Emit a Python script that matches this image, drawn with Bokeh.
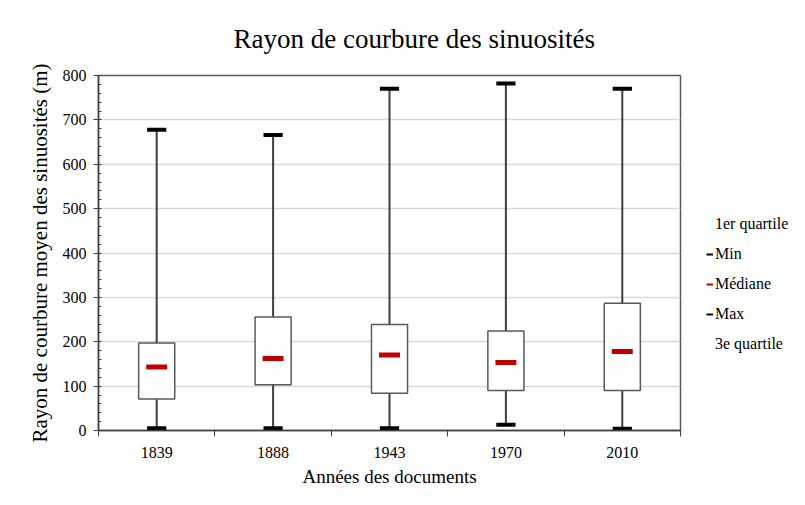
import numpy as np
from bokeh.plotting import figure
from bokeh.layouts import row
from bokeh.models import Range1d, FixedTicker, SingleIntervalTicker, Legend, LegendItem
from bokeh.embed import file_html
from bokeh.resources import INLINE

years = ["1839", "1888", "1943", "1970", "2010"]
v_min = [5, 5, 5, 13, 4]
q1 = [71, 103, 84, 90, 90]
median = [143, 162, 170, 153, 178]
q3 = [197, 256, 239, 224, 287]
v_max = [678, 666, 770, 782, 770]
legend_labels = ["1er quartile", "Min", "Médiane", "Max", "3e quartile"]

x = list(range(1, len(years) + 1))
FONT = "Liberation Serif"

p = figure(width=690, height=497, output_backend="svg", toolbar_location=None,
           x_range=Range1d(0.5, len(years) + 0.5), y_range=Range1d(0, 800),
           min_border_left=98, min_border_right=10, min_border_top=75, min_border_bottom=67)

p.title.text = "Rayon de courbure des sinuosités"
p.title.text_font = FONT
p.title.text_font_size = "27px"
p.title.text_font_style = "normal"
p.title.align = "left"
p.title.offset = 135
p.title.standoff = 43
p.title.text_color = "black"

p.outline_line_color = "#595959"
p.outline_line_width = 1.5
p.xgrid.grid_line_color = None
p.ygrid.grid_line_color = "#d9d9d9"
p.ygrid.grid_line_width = 1.5

# y axis
p.yaxis.ticker = SingleIntervalTicker(interval=100, num_minor_ticks=5)
p.yaxis.axis_label = "Rayon de courbure moyen des sinuosités (m)"
p.yaxis.major_tick_in = 2
p.yaxis.major_tick_out = 5
p.yaxis.minor_tick_in = 3
p.yaxis.minor_tick_out = 0
p.yaxis.major_label_standoff = 7
p.yaxis.axis_label_standoff = 8

# x axis
p.xaxis.ticker = FixedTicker(ticks=x, minor_ticks=[i + 0.5 for i in range(len(years) + 1)])
p.xaxis.major_label_overrides = {xi: yr for xi, yr in zip(x, years)}
p.xaxis.major_tick_in = 0
p.xaxis.major_tick_out = 0
p.xaxis.minor_tick_in = 0
p.xaxis.minor_tick_out = 6
p.xaxis.major_label_standoff = 10
p.xaxis.axis_label = "Années des documents"
p.xaxis.axis_label_standoff = 5

for ax in (p.xaxis, p.yaxis):
    ax.axis_line_color = "#404040"
    ax.axis_line_width = 1.5
    ax.major_tick_line_color = "#404040"
    ax.minor_tick_line_color = "#404040"
    ax.major_label_text_font = FONT
    ax.major_label_text_font_size = "16px"
    ax.major_label_text_color = "black"
    ax.axis_label_text_font = FONT
    ax.axis_label_text_font_style = "normal"
    ax.axis_label_text_color = "black"
p.xaxis.axis_label_text_font_size = "19px"
p.yaxis.axis_label_text_font_size = "21px"

# whiskers
p.segment(x0=x, y0=v_min, x1=x, y1=v_max, line_color="#404040", line_width=2)
# boxes
p.vbar(x=x, width=0.31, bottom=q1, top=q3, fill_color="white",
       line_color="#595959", line_width=1.5)
# caps
p.rect(x=x, y=v_min, width=0.165, height=4, height_units="screen",
       fill_color="black", line_color=None)
p.rect(x=x, y=v_max, width=0.165, height=4, height_units="screen",
       fill_color="black", line_color=None)
# medians
p.rect(x=x, y=median, width=0.18, height=5, height_units="screen",
       fill_color="#C00000", line_color=None)

# legend in a narrow companion figure (proxy renderers hidden, legend only)
lp = figure(width=107, height=497, output_backend="svg", toolbar_location=None,
            x_range=Range1d(0, 1), y_range=Range1d(0, 1),
            x_axis_location=None, y_axis_location=None, min_border=0)
lp.grid.visible = False
lp.outline_line_color = None

r_q1 = lp.line(x=x, y=q1, line_alpha=0, visible=False)
r_min = lp.line(x=x, y=v_min, line_color="black", line_width=2, visible=False)
r_med = lp.line(x=x, y=median, line_color="#C00000", line_width=2, visible=False)
r_max = lp.line(x=x, y=v_max, line_color="black", line_width=2, visible=False)
r_q3 = lp.line(x=x, y=q3, line_alpha=0, visible=False)
rends = [r_q1, r_min, r_med, r_max, r_q3]

legend = Legend(items=[LegendItem(label=lab, renderers=[r]) for lab, r in zip(legend_labels, rends)],
                location=(16, 76), glyph_width=7, glyph_height=20, label_standoff=2,
                spacing=10, padding=0, margin=0, border_line_color=None,
                background_fill_alpha=0, label_text_font=FONT, label_text_font_size="16px",
                label_text_color="black", label_height=20)
lp.add_layout(legend)

layout = row(p, lp, spacing=0)
open("out.html", "w").write(file_html(layout, INLINE))
